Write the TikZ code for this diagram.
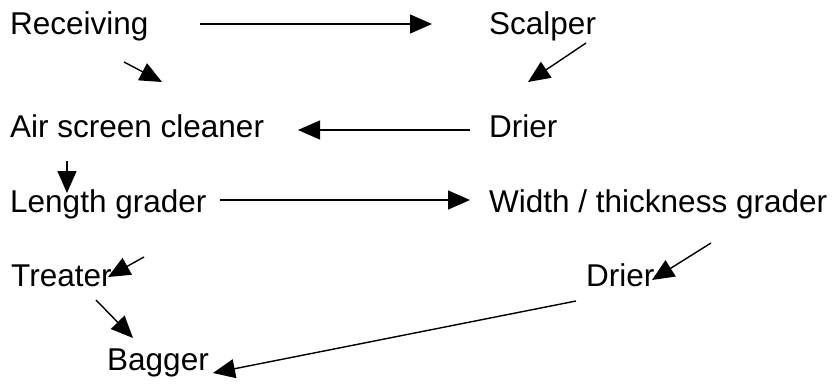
\documentclass[tikz,border=0pt]{standalone}
\usepackage{fontspec}
\setmainfont{Liberation Sans}
\usetikzlibrary{arrows.meta}
\begin{document}
\begin{tikzpicture}[x=1pt,y=-1pt,
  stage/.style={anchor=base west,inner sep=0pt,font=\fontsize{31.5}{36}\selectfont},
  flow/.style={line width=1.4pt,-{Triangle[length=22pt,width=19pt]}}]
\useasboundingbox (0,0) rectangle (835,385);
% process stages
\node[stage] (rec)  at (10,35)  {Receiving};
\node[stage] (scal) at (489,35) {Scalper};
\node[stage] (air)  at (10,138) {Air screen cleaner};
\node[stage] (dri1) at (489,138) {Drier};
\node[stage] (len)  at (10,212) {Length grader};
\node[stage] (wid)  at (489,212) {Width / thickness grader};
\node[stage] (tre)  at (11,286) {Treater};
\node[stage] (dri2) at (586,286) {Drier};
\node[stage] (bag)  at (107,370) {Bagger};
% flow arrows
\draw[flow] ([shift={(190,-11)}]rec.base west) -- ([shift={(-57,-11)}]scal.base west);
\draw[flow] ([shift={(114,27)}]rec.base west) -- ([shift={(152,-56)}]air.base west);
\draw[flow] ([shift={(97,8)}]scal.base west) -- ([shift={(39,-56)}]dri1.base west);
\draw[flow] ([shift={(-19,-8)}]dri1.base west) -- ([shift={(288,-8)}]air.base west);
\draw[flow] ([shift={(57,23)}]air.base west) -- ([shift={(57,-19)}]len.base west);
\draw[flow] ([shift={(210,-12)}]len.base west) -- ([shift={(-19,-12)}]wid.base west);
\draw[flow] ([shift={(134,45)}]len.base west) -- ([shift={(97,-9)}]tre.base west);
\draw[flow] ([shift={(85,14)}]tre.base west) -- ([shift={(26,-32)}]bag.base west);
\draw[flow] ([shift={(222,31)}]wid.base west) -- ([shift={(66,-6)}]dri2.base west);
\draw[flow] ([shift={(-10,15)}]dri2.base west) -- ([shift={(106,3)}]bag.base west);
\end{tikzpicture}
\end{document}
